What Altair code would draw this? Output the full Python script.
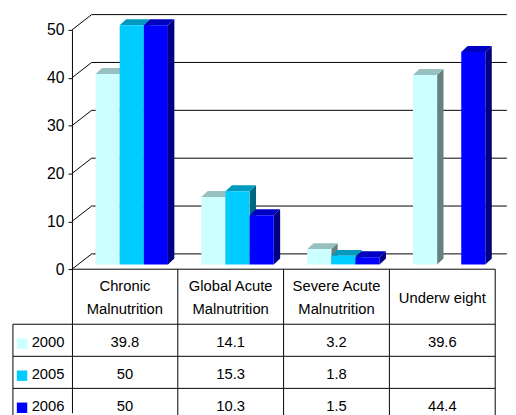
import altair as alt
import pandas as pd

# ---- data ----
categories = ["Chronic Malnutrition", "Global Acute Malnutrition",
              "Severe Acute Malnutrition", "Underweight"]
header_labels = ["Chronic\nMalnutrition", "Global Acute\nMalnutrition",
                 "Severe Acute\nMalnutrition", "Underw eight"]
years = ["2000", "2005", "2006"]
values_2000 = [39.8, 14.1, 3.2, 39.6]
values_2005 = [50, 15.3, 1.8, None]
values_2006 = [50, 10.3, 1.5, 44.4]
y_ticks = [0, 10, 20, 30, 40, 50]

# ---- styles ----
front_colors = ["#CCFFFF", "#00CCFF", "#0000FF"]
top_colors = ["#99C0C0", "#0099C0", "#0000C0"]
side_colors = ["#668080", "#006680", "#000080"]
FONT = "Liberation Sans"

# geometry (in scale units)
BAR_OFF, BAR_W = 0.223, 0.228      # bar offset inside a column, bar width
DX, DY = 0.0605, 1.234             # bar depth (x units, y units)
LIFT = 1.0                         # bars sit a bit behind the front floor edge
BACK_DX, BACK_DY = 0.186, 3.2      # back wall depth
WALL_END = 4.11
HEADER, ROW = 11.5, 6.7            # table header / row heights (y units)
ROWHEAD_W = 0.558                  # width of the row-header column (x units)
LINE_H = 23                        # header line height (px)
PX_PER_UNIT = 389 / 80
NCAT = len(categories)
TABLE_BOTTOM = -(HEADER + ROW * len(years))

series = [values_2000, values_2005, values_2006]
bars = pd.DataFrame([
    {"cat": c, "ci": i, "year": y, "yj": j, "value": series[j][i]}
    for j, y in enumerate(years) for i, c in enumerate(categories)
])
ticks = pd.DataFrame({"t": y_ticks})
cats = pd.DataFrame({"ci": list(range(NCAT)), "label": header_labels})
rows = pd.DataFrame({"r": list(range(len(years))), "year": years})
hb = pd.DataFrame({"b": list(range(len(years) + 1))})
vb = pd.DataFrame({"c": list(range(1, NCAT + 1))})

xs = alt.Scale(domain=[0, NCAT], nice=False, zero=False)
ys = alt.Scale(domain=[-30, 50], nice=False, zero=False)

yaxis = alt.Axis(values=y_ticks, title=None, grid=False, labelFont=FONT,
                 labelFontSize=16, labelColor="black", tickColor="black",
                 domainColor="black", tickSize=4, labelPadding=4,
                 domainWidth=1, tickWidth=1)

def Y(field, **kw):
    return alt.Y(field, scale=ys, axis=yaxis, title=None, **kw)

def X(field, **kw):
    return alt.X(field, scale=xs, axis=None, **kw)

def col(rng):
    return alt.Color("year:N", scale=alt.Scale(domain=years, range=rng), legend=None)

# ---- back wall ----
wall = alt.Chart(ticks).transform_calculate(
    x0=f"{BACK_DX}", x1=f"{WALL_END}", yb=f"datum.t + {BACK_DY}"
).mark_rule(color="black", strokeWidth=1).encode(
    x=X("x0:Q"), x2="x1:Q", y=Y("yb:Q"))

diag = alt.Chart(ticks).transform_calculate(
    x0="0", x1=f"{BACK_DX}", yb=f"datum.t + {BACK_DY}"
).mark_rule(color="black", strokeWidth=1).encode(
    x=X("x0:Q"), x2="x1:Q", y=Y("t:Q"), y2="yb:Q")

# ---- bars ----
base = alt.Chart(bars).transform_filter("isValid(datum.value)").transform_calculate(
    L=f"datum.ci + {BAR_OFF} + {BAR_W} * datum.yj",
    key="datum.cat + '-' + datum.year",
).transform_calculate(
    R=f"datum.L + {BAR_W}", T=f"datum.value + {LIFT}", B=f"{LIFT}"
)

front = base.mark_rect().encode(
    x=X("L:Q"), x2="R:Q", y=Y("T:Q"), y2="B:Q", color=col(front_colors))

pts = base.transform_calculate(k="[0, 1]").transform_flatten(["k"])

top = pts.transform_calculate(
    tx=f"datum.L + datum.k * {DX}", tx2=f"datum.R + datum.k * {DX}",
    ty=f"datum.T + datum.k * {DY}"
).mark_area(orient="horizontal").encode(
    x=X("tx:Q", stack=None), x2="tx2:Q", y=Y("ty:Q"),
    detail="key:N", color=col(top_colors))

side = pts.transform_calculate(
    sx=f"datum.R + datum.k * {DX}",
    sy=f"datum.T + datum.k * {DY}", sy2=f"datum.B + datum.k * {DY}"
).mark_area(orient="vertical").encode(
    x=X("sx:Q"), y=Y("sy:Q", stack=None), y2="sy2:Q",
    detail="key:N", color=col(side_colors))

# ---- table ----
top_line = alt.Chart(hb).transform_filter("datum.b == 0").transform_calculate(
    x0="0", x1=f"{NCAT}", yy="0"
).mark_rule(color="black").encode(x=X("x0:Q"), x2="x1:Q", y=Y("yy:Q"))

hlines = alt.Chart(hb).transform_calculate(
    x0=f"{-ROWHEAD_W}", x1=f"{NCAT}", yy=f"-{HEADER} - datum.b * {ROW}"
).mark_rule(color="black").encode(x=X("x0:Q"), x2="x1:Q", y=Y("yy:Q"))

vlines = alt.Chart(vb).transform_calculate(
    y0="0", y1=f"{TABLE_BOTTOM}"
).mark_rule(color="black").encode(x=X("c:Q"), y=Y("y0:Q"), y2="y1:Q")

left_line = alt.Chart(hb).transform_filter("datum.b == 0").transform_calculate(
    xx=f"{-ROWHEAD_W}", y0=f"-{HEADER}", y1=f"{TABLE_BOTTOM}"
).mark_rule(color="black").encode(x=X("xx:Q"), y=Y("y0:Q"), y2="y1:Q")

header = alt.Chart(cats).transform_calculate(
    xc="datum.ci + 0.5",
    yc=(f"-{HEADER} / 2 - 0.2 + (length(split(datum.label, '\\n')) - 1)"
        f" * {LINE_H / 2 / PX_PER_UNIT}")
).mark_text(font=FONT, fontSize=15, lineBreak="\n", lineHeight=LINE_H,
            align="center", baseline="middle", color="black").encode(
    x=X("xc:Q"), y=Y("yc:Q"), text="label:N")

row_text = alt.Chart(rows).transform_calculate(
    xl=f"{-ROWHEAD_W} + 0.177",
    yc=f"-{HEADER} - (datum.r + 0.5) * {ROW} - 0.4"
).mark_text(font=FONT, fontSize=15, align="left", baseline="middle",
            color="black").encode(x=X("xl:Q"), y=Y("yc:Q"), text="year:N")

swatch = alt.Chart(rows).transform_calculate(
    xl=f"{-ROWHEAD_W} + 0.086",
    yc=f"-{HEADER} - (datum.r + 0.5) * {ROW} - 0.7"
).mark_square(size=112, filled=True, opacity=1).encode(
    x=X("xl:Q"), y=Y("yc:Q"), color=col(front_colors))

cells = alt.Chart(bars).transform_filter("isValid(datum.value)").transform_calculate(
    xc="datum.ci + 0.5",
    yc=f"-{HEADER} - (datum.yj + 0.5) * {ROW} - 0.4"
).mark_text(font=FONT, fontSize=15, align="center", baseline="middle",
            color="black").encode(x=X("xc:Q"), y=Y("yc:Q"), text="value:N")

chart = alt.layer(
    wall, diag, side, top, front,
    top_line, hlines, vlines, left_line, header, row_text, swatch, cells
).resolve_scale(color="independent").properties(
    width=430, height=389,
    autosize=alt.AutoSizeParams(type="none"),
    padding={"left": 65, "top": 19, "right": 13, "bottom": 0},
    background="white",
).configure_view(strokeWidth=0)

chart.save("out.html", embed_options={"renderer": "svg", "actions": False})
